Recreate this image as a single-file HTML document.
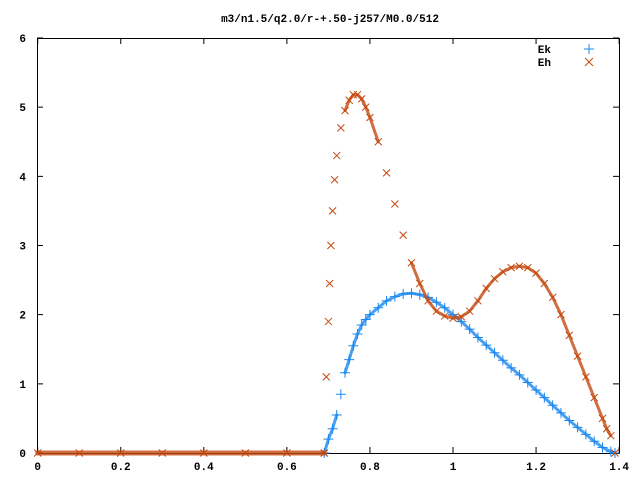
<!DOCTYPE html>
<html><head><meta charset="utf-8"><style>
body{margin:0;background:#fff}
svg text{font-family:"Liberation Mono","DejaVu Sans Mono",monospace;font-size:11px;font-weight:bold}
</style></head><body>
<svg id="c" width="640" height="480" xmlns="http://www.w3.org/2000/svg">
<text x="330" y="22" text-anchor="middle">m3/n1.5/q2.0/r-+.50-j257/M0.0/512</text>
<rect x="37.5" y="38.5" width="582" height="415" fill="none" stroke="#000"/>
<g id="ax"></g><g id="marks"></g>
<g>
<text x="551" y="53" text-anchor="end">Ek</text>
<path d="M589 44v10M584 49h10" stroke="#1a88f0"/>
<text x="551" y="66" text-anchor="end">Eh</text>
<path d="M585 58l8 8M593 58l-8 8" stroke="#c44a10"/>
</g>
</svg>
<script>
const xTicks=[0,0.2,0.4,0.6,0.8,1,1.2,1.4];
const xTickLabels=["0","0.2","0.4","0.6","0.8","1","1.2","1.4"];
const yTicks=[0,1,2,3,4,5,6];
const ekX=[0.69,0.70,0.71,0.72,0.73,0.74,0.75,0.76,0.77,0.78,0.79,0.8,0.82,0.84,0.86,0.88,0.9,0.92,0.94,0.96,0.98,1.0,1.02,1.04,1.06,1.08,1.1,1.12,1.14,1.16,1.18,1.2,1.22,1.24,1.26,1.28,1.3,1.32,1.34,1.36,1.38,1.39];
const ekY=[0,0.2,0.35,0.55,0.85,1.16,1.35,1.55,1.72,1.85,1.93,2.0,2.1,2.2,2.26,2.3,2.31,2.29,2.25,2.18,2.1,2.0,1.9,1.79,1.67,1.56,1.45,1.34,1.23,1.13,1.02,0.91,0.8,0.69,0.58,0.47,0.37,0.27,0.17,0.08,0.02,0];
const ehX=[0.69,0.695,0.7,0.703,0.706,0.71,0.715,0.72,0.73,0.74,0.75,0.76,0.77,0.78,0.79,0.8,0.82,0.84,0.86,0.88,0.9,0.92,0.94,0.96,0.98,1.0,1.02,1.04,1.06,1.08,1.1,1.12,1.14,1.16,1.18,1.2,1.22,1.24,1.26,1.28,1.3,1.32,1.34,1.36,1.37,1.38,1.39];
const ehY=[0,1.1,1.9,2.45,3.0,3.5,3.95,4.3,4.7,4.95,5.1,5.18,5.18,5.12,5.0,4.85,4.5,4.05,3.6,3.15,2.75,2.45,2.2,2.05,1.98,1.95,1.97,2.05,2.2,2.38,2.52,2.62,2.68,2.7,2.68,2.6,2.45,2.25,2.0,1.7,1.4,1.1,0.8,0.5,0.35,0.25,0];
const zeroX=[0,0.1,0.2,0.3,0.4,0.5,0.6,0.69];
const zeroY=[0,0,0,0,0,0,0,0];
const NS="http://www.w3.org/2000/svg";
const X=v=>37.7+415.3*v, Y=v=>453-69.17*v;
const ax=document.getElementById('ax'), mk=document.getElementById('marks');
function el(t,a,p){const e=document.createElementNS(NS,t);for(const k in a)e.setAttribute(k,a[k]);p.appendChild(e);return e;}
xTicks.forEach((t,i)=>{const x=X(t);
 const tk=el('path',{d:`M${x} 453v-6M${x} 38v6`,stroke:'#000'},ax);
 
 
 const l=el('text',{x:x,y:470,'text-anchor':'middle'},ax);l.textContent=xTickLabels[i];
 
 });
yTicks.forEach(t=>{const y=Y(t);
 const tk=el('path',{d:`M37 ${y}h6M619 ${y}h-6`,stroke:'#000'},ax);
 
 
 const l=el('text',{x:26,y:y+4,'text-anchor':'end'},ax);l.textContent=String(t);
 
 });
function series(xs,ys,col,kind,name,w){
 const g=el('g',{},mk);
 
 
 let d='';
 for(let i=1;i<xs.length;i++){
  const x0=X(xs[i-1]),y0=Y(ys[i-1]),x1=X(xs[i]),y1=Y(ys[i]);
  const dx=x1-x0, dy=y1-y0;
  if(Math.abs(dy)>2.5*Math.abs(dx)+6) continue;
  d+=`M${x0} ${y0}L${x1} ${y1}`;
 }
 el('path',{d:d,fill:'none',stroke:col,'stroke-width':w,'stroke-opacity':0.8,'stroke-linecap':'round'},g);
 xs.forEach((x,i)=>{const px=X(x),py=Y(ys[i]);
  const dd=kind==='x'?`M${px-3.5} ${py-3.5}l7 7M${px+3.5} ${py-3.5}l-7 7`:`M${px} ${py-5}v10M${px-5} ${py}h10`;
  const p=el('path',{d:dd,stroke:col},g);
  
  });
}
series(ekX,ekY,'#1a88f0','+','ek-series',3);
series(ehX,ehY,'#c44a10','x','eh-series',3);
series(zeroX,zeroY,'#c44a10','x','zero-band',5);
</script>
</body></html>
